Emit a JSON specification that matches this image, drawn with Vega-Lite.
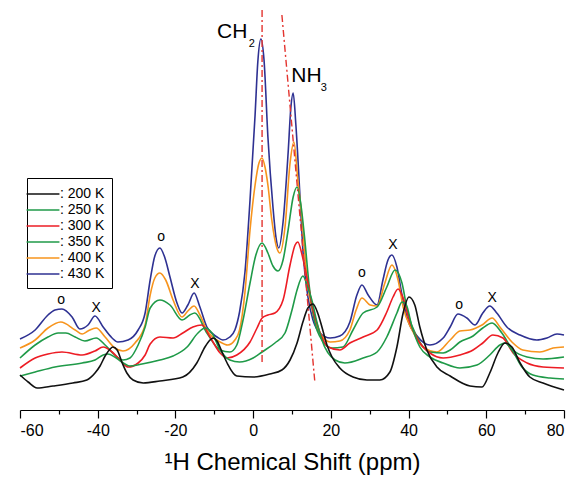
{
  "$schema": "https://vega.github.io/schema/vega-lite/v6.json",
  "width": 544,
  "height": 410,
  "autosize": {"type": "none"},
  "padding": {"left": 20, "top": 0, "right": 12, "bottom": 71},
  "config": {"font": "Liberation Sans", "view": {"stroke": null}},
  "datasets": {
    "spectra": [
      {"T":"430 K","x":-60,"y":71},{"T":"430 K","x":-56.1,"y":80},{"T":"430 K","x":-52.8,"y":95},{"T":"430 K","x":-51,"y":100},{"T":"430 K","x":-49.2,"y":101},{"T":"430 K","x":-46.6,"y":93},{"T":"430 K","x":-44.6,"y":81},{"T":"430 K","x":-42.5,"y":85},{"T":"430 K","x":-40.7,"y":94},{"T":"430 K","x":-38.6,"y":83},{"T":"430 K","x":-36.3,"y":72},{"T":"430 K","x":-34.8,"y":68},{"T":"430 K","x":-32.2,"y":70},{"T":"430 K","x":-29.6,"y":80},{"T":"430 K","x":-27.8,"y":97},{"T":"430 K","x":-26.5,"y":130},{"T":"430 K","x":-25.3,"y":154},{"T":"430 K","x":-24,"y":162},{"T":"430 K","x":-22.7,"y":152},{"T":"430 K","x":-21.4,"y":133},{"T":"430 K","x":-19.6,"y":107},{"T":"430 K","x":-18.3,"y":97},{"T":"430 K","x":-16.8,"y":105},{"T":"430 K","x":-15.2,"y":117},{"T":"430 K","x":-13.7,"y":103},{"T":"430 K","x":-11.9,"y":83},{"T":"430 K","x":-9.3,"y":73},{"T":"430 K","x":-7.8,"y":70},{"T":"430 K","x":-6,"y":73},{"T":"430 K","x":-4.7,"y":80},{"T":"430 K","x":-3.5,"y":98},{"T":"430 K","x":-2.1,"y":138},{"T":"430 K","x":-0.8,"y":210},{"T":"430 K","x":0.5,"y":295},{"T":"430 K","x":1.2,"y":348},{"T":"430 K","x":2,"y":371},{"T":"430 K","x":2.8,"y":350},{"T":"430 K","x":3.8,"y":273},{"T":"430 K","x":5.1,"y":203},{"T":"430 K","x":5.9,"y":172},{"T":"430 K","x":6.6,"y":162},{"T":"430 K","x":7.7,"y":188},{"T":"430 K","x":9,"y":257},{"T":"430 K","x":9.7,"y":302},{"T":"430 K","x":10.3,"y":317},{"T":"430 K","x":11,"y":285},{"T":"430 K","x":12.1,"y":210},{"T":"430 K","x":12.8,"y":160},{"T":"430 K","x":14.1,"y":113},{"T":"430 K","x":15.4,"y":90},{"T":"430 K","x":17.2,"y":77},{"T":"430 K","x":19.8,"y":72},{"T":"430 K","x":22.3,"y":74},{"T":"430 K","x":24.9,"y":88},{"T":"430 K","x":26.7,"y":115},{"T":"430 K","x":28,"y":125},{"T":"430 K","x":29.6,"y":115},{"T":"430 K","x":31.9,"y":105},{"T":"430 K","x":33.4,"y":130},{"T":"430 K","x":34.7,"y":150},{"T":"430 K","x":35.7,"y":155},{"T":"430 K","x":37,"y":143},{"T":"430 K","x":38.3,"y":115},{"T":"430 K","x":39.8,"y":90},{"T":"430 K","x":42.2,"y":74},{"T":"430 K","x":45.5,"y":65},{"T":"430 K","x":48.9,"y":72},{"T":"430 K","x":50.7,"y":83},{"T":"430 K","x":52.7,"y":96},{"T":"430 K","x":55,"y":92},{"T":"430 K","x":57.1,"y":85},{"T":"430 K","x":59.1,"y":97},{"T":"430 K","x":60.9,"y":104},{"T":"430 K","x":62.7,"y":97},{"T":"430 K","x":65.3,"y":83},{"T":"430 K","x":68.7,"y":75},{"T":"430 K","x":73,"y":70},{"T":"430 K","x":75.6,"y":72},{"T":"430 K","x":78.2,"y":76},{"T":"430 K","x":80,"y":75},

      {"T":"400 K","x":-60,"y":62},{"T":"400 K","x":-56.1,"y":70},{"T":"400 K","x":-52.8,"y":82},{"T":"400 K","x":-49.5,"y":88},{"T":"400 K","x":-45.8,"y":80},{"T":"400 K","x":-44,"y":76},{"T":"400 K","x":-42.5,"y":79},{"T":"400 K","x":-40.4,"y":82},{"T":"400 K","x":-38.1,"y":73},{"T":"400 K","x":-35.6,"y":62},{"T":"400 K","x":-33.5,"y":59},{"T":"400 K","x":-30.4,"y":67},{"T":"400 K","x":-27.8,"y":85},{"T":"400 K","x":-26.5,"y":115},{"T":"400 K","x":-25.3,"y":132},{"T":"400 K","x":-24,"y":137},{"T":"400 K","x":-22.5,"y":130},{"T":"400 K","x":-20.6,"y":110},{"T":"400 K","x":-18.3,"y":93},{"T":"400 K","x":-16.8,"y":99},{"T":"400 K","x":-15.2,"y":104},{"T":"400 K","x":-13.7,"y":95},{"T":"400 K","x":-11.9,"y":80},{"T":"400 K","x":-8.5,"y":68},{"T":"400 K","x":-6.5,"y":65},{"T":"400 K","x":-4.7,"y":70},{"T":"400 K","x":-3.5,"y":80},{"T":"400 K","x":-2.1,"y":118},{"T":"400 K","x":-0.8,"y":180},{"T":"400 K","x":0.5,"y":225},{"T":"400 K","x":1.5,"y":247},{"T":"400 K","x":2.3,"y":252},{"T":"400 K","x":3.1,"y":242},{"T":"400 K","x":3.8,"y":225},{"T":"400 K","x":4.8,"y":190},{"T":"400 K","x":6.1,"y":162},{"T":"400 K","x":6.9,"y":157},{"T":"400 K","x":8.2,"y":183},{"T":"400 K","x":9.5,"y":247},{"T":"400 K","x":10.5,"y":268},{"T":"400 K","x":11.5,"y":230},{"T":"400 K","x":12.6,"y":190},{"T":"400 K","x":13.9,"y":130},{"T":"400 K","x":15.4,"y":97},{"T":"400 K","x":17.2,"y":77},{"T":"400 K","x":19.8,"y":68},{"T":"400 K","x":22.3,"y":69},{"T":"400 K","x":24.9,"y":80},{"T":"400 K","x":26.5,"y":100},{"T":"400 K","x":28,"y":112},{"T":"400 K","x":30.1,"y":105},{"T":"400 K","x":31.9,"y":104},{"T":"400 K","x":33.9,"y":127},{"T":"400 K","x":35.7,"y":145},{"T":"400 K","x":37.3,"y":130},{"T":"400 K","x":38.6,"y":103},{"T":"400 K","x":40.9,"y":80},{"T":"400 K","x":43.7,"y":63},{"T":"400 K","x":47.3,"y":58},{"T":"400 K","x":50.7,"y":70},{"T":"400 K","x":53.2,"y":79},{"T":"400 K","x":55.8,"y":80},{"T":"400 K","x":58.9,"y":85},{"T":"400 K","x":61.5,"y":92},{"T":"400 K","x":63.5,"y":83},{"T":"400 K","x":66.6,"y":68},{"T":"400 K","x":69.4,"y":60},{"T":"400 K","x":73.8,"y":58},{"T":"400 K","x":77.2,"y":62},{"T":"400 K","x":80,"y":63},

      {"T":"350 K","x":-60,"y":52},{"T":"350 K","x":-56.1,"y":65},{"T":"350 K","x":-52.8,"y":73},{"T":"350 K","x":-50.2,"y":77},{"T":"350 K","x":-48.2,"y":77},{"T":"350 K","x":-45.8,"y":73},{"T":"350 K","x":-43.3,"y":69},{"T":"350 K","x":-40.4,"y":72},{"T":"350 K","x":-38.1,"y":65},{"T":"350 K","x":-35.6,"y":55},{"T":"350 K","x":-33.5,"y":50},{"T":"350 K","x":-31.7,"y":52},{"T":"350 K","x":-29.6,"y":65},{"T":"350 K","x":-27.8,"y":83},{"T":"350 K","x":-26.5,"y":102},{"T":"350 K","x":-24,"y":110},{"T":"350 K","x":-21.4,"y":105},{"T":"350 K","x":-18.3,"y":90},{"T":"350 K","x":-16.3,"y":95},{"T":"350 K","x":-15,"y":97},{"T":"350 K","x":-11.9,"y":77},{"T":"350 K","x":-8.5,"y":60},{"T":"350 K","x":-6,"y":58},{"T":"350 K","x":-4.2,"y":65},{"T":"350 K","x":-2.6,"y":90},{"T":"350 K","x":-0.8,"y":127},{"T":"350 K","x":0.7,"y":155},{"T":"350 K","x":2.3,"y":167},{"T":"350 K","x":3.8,"y":157},{"T":"350 K","x":5.1,"y":144},{"T":"350 K","x":6.4,"y":139},{"T":"350 K","x":7.7,"y":150},{"T":"350 K","x":9,"y":180},{"T":"350 K","x":10.3,"y":213},{"T":"350 K","x":11.3,"y":223},{"T":"350 K","x":12.3,"y":205},{"T":"350 K","x":13.3,"y":170},{"T":"350 K","x":14.4,"y":125},{"T":"350 K","x":15.4,"y":97},{"T":"350 K","x":17.7,"y":70},{"T":"350 K","x":20.3,"y":62},{"T":"350 K","x":23.1,"y":63},{"T":"350 K","x":25.7,"y":80},{"T":"350 K","x":28.3,"y":97},{"T":"350 K","x":31.9,"y":103},{"T":"350 K","x":34.4,"y":123},{"T":"350 K","x":36.5,"y":140},{"T":"350 K","x":38.3,"y":127},{"T":"350 K","x":39.8,"y":97},{"T":"350 K","x":42.2,"y":73},{"T":"350 K","x":45.5,"y":58},{"T":"350 K","x":48.9,"y":57},{"T":"350 K","x":50.7,"y":60},{"T":"350 K","x":53.2,"y":68},{"T":"350 K","x":56.6,"y":74},{"T":"350 K","x":59.1,"y":82},{"T":"350 K","x":61.5,"y":87},{"T":"350 K","x":64,"y":77},{"T":"350 K","x":66.9,"y":60},{"T":"350 K","x":70.5,"y":53},{"T":"350 K","x":74.6,"y":51},{"T":"350 K","x":80,"y":53},

      {"T":"300 K","x":-60,"y":42},{"T":"300 K","x":-56.1,"y":52},{"T":"300 K","x":-52.8,"y":56},{"T":"300 K","x":-49.2,"y":58},{"T":"300 K","x":-44,"y":55},{"T":"300 K","x":-40.7,"y":59},{"T":"300 K","x":-38.6,"y":63},{"T":"300 K","x":-36.3,"y":58},{"T":"300 K","x":-33.8,"y":48},{"T":"300 K","x":-32.2,"y":43},{"T":"300 K","x":-29.6,"y":47},{"T":"300 K","x":-27.8,"y":55},{"T":"300 K","x":-26.5,"y":66},{"T":"300 K","x":-24,"y":73},{"T":"300 K","x":-20.6,"y":72},{"T":"300 K","x":-18.1,"y":77},{"T":"300 K","x":-15.5,"y":83},{"T":"300 K","x":-13.2,"y":85},{"T":"300 K","x":-11.1,"y":73},{"T":"300 K","x":-8.5,"y":57},{"T":"300 K","x":-6.7,"y":52},{"T":"300 K","x":-4.2,"y":55},{"T":"300 K","x":-0.8,"y":68},{"T":"300 K","x":1,"y":82},{"T":"300 K","x":2.3,"y":92},{"T":"300 K","x":3.8,"y":95},{"T":"300 K","x":5.6,"y":97},{"T":"300 K","x":7.7,"y":110},{"T":"300 K","x":9.5,"y":145},{"T":"300 K","x":10.8,"y":165},{"T":"300 K","x":11.5,"y":168},{"T":"300 K","x":12.6,"y":155},{"T":"300 K","x":14.1,"y":127},{"T":"300 K","x":15.4,"y":100},{"T":"300 K","x":16.7,"y":83},{"T":"300 K","x":19.3,"y":63},{"T":"300 K","x":22.3,"y":60},{"T":"300 K","x":24.9,"y":67},{"T":"300 K","x":28.3,"y":73},{"T":"300 K","x":31.9,"y":80},{"T":"300 K","x":34.4,"y":98},{"T":"300 K","x":36,"y":113},{"T":"300 K","x":37.3,"y":121},{"T":"300 K","x":38.6,"y":112},{"T":"300 K","x":40.4,"y":87},{"T":"300 K","x":42.4,"y":70},{"T":"300 K","x":45.5,"y":57},{"T":"300 K","x":48.9,"y":52},{"T":"300 K","x":53.2,"y":55},{"T":"300 K","x":56.6,"y":60},{"T":"300 K","x":59.1,"y":67},{"T":"300 K","x":61.7,"y":75},{"T":"300 K","x":64.3,"y":72},{"T":"300 K","x":66.9,"y":57},{"T":"300 K","x":70.5,"y":47},{"T":"300 K","x":74.6,"y":43},{"T":"300 K","x":80,"y":42},

      {"T":"250 K","x":-60,"y":34},{"T":"250 K","x":-56.1,"y":38},{"T":"250 K","x":-51,"y":43},{"T":"250 K","x":-44,"y":47},{"T":"250 K","x":-40.7,"y":50},{"T":"250 K","x":-38.6,"y":55},{"T":"250 K","x":-37.4,"y":56},{"T":"250 K","x":-35.6,"y":53},{"T":"250 K","x":-33.8,"y":48},{"T":"250 K","x":-31.7,"y":44},{"T":"250 K","x":-28.6,"y":46},{"T":"250 K","x":-24,"y":50},{"T":"250 K","x":-20.6,"y":54},{"T":"250 K","x":-17,"y":63},{"T":"250 K","x":-14.2,"y":77},{"T":"250 K","x":-12.4,"y":82},{"T":"250 K","x":-10.6,"y":77},{"T":"250 K","x":-8.5,"y":60},{"T":"250 K","x":-6,"y":50},{"T":"250 K","x":-3.5,"y":48},{"T":"250 K","x":0,"y":52},{"T":"250 K","x":2.3,"y":58},{"T":"250 K","x":5.6,"y":67},{"T":"250 K","x":8.2,"y":77},{"T":"250 K","x":10,"y":100},{"T":"250 K","x":11.3,"y":120},{"T":"250 K","x":12.8,"y":134},{"T":"250 K","x":14.1,"y":122},{"T":"250 K","x":15.1,"y":110},{"T":"250 K","x":16.4,"y":88},{"T":"250 K","x":17.7,"y":70},{"T":"250 K","x":21.1,"y":50},{"T":"250 K","x":23.6,"y":47},{"T":"250 K","x":28.3,"y":52},{"T":"250 K","x":31.9,"y":58},{"T":"250 K","x":34.4,"y":73},{"T":"250 K","x":37,"y":97},{"T":"250 K","x":38.3,"y":108},{"T":"250 K","x":39.3,"y":106},{"T":"250 K","x":40.9,"y":83},{"T":"250 K","x":42.9,"y":63},{"T":"250 K","x":45.5,"y":53},{"T":"250 K","x":48.9,"y":47},{"T":"250 K","x":53.2,"y":42},{"T":"250 K","x":57.6,"y":45},{"T":"250 K","x":60.9,"y":55},{"T":"250 K","x":63.5,"y":65},{"T":"250 K","x":64.8,"y":67},{"T":"250 K","x":66.6,"y":60},{"T":"250 K","x":69.2,"y":43},{"T":"250 K","x":72,"y":35},{"T":"250 K","x":76.4,"y":32},{"T":"250 K","x":80,"y":31},

      {"T":"200 K","x":-60,"y":35},{"T":"200 K","x":-57.9,"y":28},{"T":"200 K","x":-55.6,"y":22},{"T":"200 K","x":-51.5,"y":24},{"T":"200 K","x":-46.4,"y":27},{"T":"200 K","x":-42.8,"y":30},{"T":"200 K","x":-40.7,"y":37},{"T":"200 K","x":-39.4,"y":44},{"T":"200 K","x":-38.1,"y":54},{"T":"200 K","x":-36.8,"y":61},{"T":"200 K","x":-36.1,"y":63},{"T":"200 K","x":-35,"y":60},{"T":"200 K","x":-33.8,"y":48},{"T":"200 K","x":-32.5,"y":37},{"T":"200 K","x":-30.9,"y":30},{"T":"200 K","x":-28.3,"y":27},{"T":"200 K","x":-24,"y":29},{"T":"200 K","x":-18.1,"y":33},{"T":"200 K","x":-14.5,"y":47},{"T":"200 K","x":-12.4,"y":63},{"T":"200 K","x":-11.1,"y":70},{"T":"200 K","x":-10.3,"y":72},{"T":"200 K","x":-9.3,"y":69},{"T":"200 K","x":-8,"y":58},{"T":"200 K","x":-6.7,"y":47},{"T":"200 K","x":-4.2,"y":34},{"T":"200 K","x":0,"y":33},{"T":"200 K","x":4.3,"y":36},{"T":"200 K","x":7.4,"y":40},{"T":"200 K","x":9.5,"y":50},{"T":"200 K","x":11.3,"y":67},{"T":"200 K","x":12.8,"y":88},{"T":"200 K","x":14.1,"y":102},{"T":"200 K","x":15.4,"y":106},{"T":"200 K","x":16.7,"y":96},{"T":"200 K","x":17.7,"y":83},{"T":"200 K","x":19,"y":65},{"T":"200 K","x":20.3,"y":53},{"T":"200 K","x":22.3,"y":42},{"T":"200 K","x":25.7,"y":33},{"T":"200 K","x":29.3,"y":30},{"T":"200 K","x":32.6,"y":30},{"T":"200 K","x":35.2,"y":38},{"T":"200 K","x":37,"y":63},{"T":"200 K","x":38.6,"y":97},{"T":"200 K","x":40.1,"y":113},{"T":"200 K","x":41.6,"y":105},{"T":"200 K","x":42.9,"y":83},{"T":"200 K","x":44.7,"y":60},{"T":"200 K","x":47.3,"y":43},{"T":"200 K","x":50.7,"y":34},{"T":"200 K","x":55.8,"y":24},{"T":"200 K","x":58.9,"y":23},{"T":"200 K","x":60.9,"y":37},{"T":"200 K","x":63,"y":57},{"T":"200 K","x":64.8,"y":67},{"T":"200 K","x":66.6,"y":63},{"T":"200 K","x":68.7,"y":47},{"T":"200 K","x":71.2,"y":33},{"T":"200 K","x":74.6,"y":27},{"T":"200 K","x":80,"y":20}
    ],
    "guides": [
      {"g":"CH2","x":2.3,"y":400},{"g":"CH2","x":2.3,"y":47},
      {"g":"NH3","x":7.4,"y":395},{"g":"NH3","x":15.9,"y":27}
    ],
    "marks": [
      {"s":"o","x":-49.4,"y":106.5},{"s":"X","x":-40.4,"y":98},
      {"s":"o","x":-23.7,"y":169.5},{"s":"X","x":-15,"y":122},
      {"s":"o","x":28,"y":133.5},{"s":"X","x":36,"y":161},
      {"s":"o","x":53,"y":101.5},{"s":"X","x":61.5,"y":108}
    ],
    "names": [
      {"s":"CH","x":-9.3,"y":372},{"s":"NH","x":9.8,"y":328}
    ],
    "subs": [
      {"s":"2","x":-1.1,"y":363},{"s":"3","x":17.4,"y":319}
    ]
  },
  "encoding": {
    "x": {
      "field": "x", "type": "quantitative",
      "scale": {"domain": [-60, 80], "nice": false, "zero": false},
      "axis": {
        "values": [-60,-50,-40,-30,-20,-10,0,10,20,30,40,50,60,70,80],
        "labelExpr": "datum.value % 20 === 0 ? '' + datum.value : ''",
        "tickSize": {"condition": {"test": "datum.value % 20 === 0", "value": 8}, "value": 4},
        "grid": false,
        "domainColor": "#000000", "tickColor": "#000000", "domainWidth": 1.2, "tickWidth": 1.2,
        "labelColor": "#000000", "labelFontSize": 16, "labelPadding": 4,
        "title": "¹H Chemical Shift (ppm)", "titleFontSize": 24, "titleFontWeight": "normal",
        "titleColor": "#000000", "titlePadding": 12
      }
    },
    "y": {
      "field": "y", "type": "quantitative",
      "scale": {"domain": [0, 410], "nice": false, "zero": false},
      "axis": null
    }
  },
  "layer": [
    {
      "data": {"name": "spectra"},
      "mark": {"type": "line", "interpolate": "monotone", "strokeWidth": 1.6},
      "encoding": {
        "color": {
          "field": "T", "type": "nominal",
          "scale": {
            "domain": ["200 K","250 K","300 K","350 K","400 K","430 K"],
            "range": ["#111111","#1f9a48","#ed1c24","#1f9a48","#f7941d","#2e3192"]
          },
          "legend": {
            "title": null, "orient": "none", "legendX": 7, "legendY": 178,
            "labelExpr": "': ' + datum.label",
            "symbolType": "M-2,0H2", "symbolSize": 270, "symbolStrokeWidth": 1.5,
            "labelOffset": 8, "labelFontSize": 14, "labelColor": "#000000",
            "rowPadding": 0, "padding": 7,
            "strokeColor": "#000000"
          }
        }
      }
    },
    {
      "data": {"name": "guides"},
      "mark": {"type": "line", "color": "#e3342f", "strokeWidth": 1.4, "strokeDash": [7, 3, 2, 3]},
      "encoding": {"detail": {"field": "g"}}
    },
    {
      "data": {"name": "marks"},
      "mark": {"type": "text", "fontSize": 14, "align": "center", "baseline": "alphabetic", "color": "#000000"},
      "encoding": {"text": {"field": "s"}}
    },
    {
      "data": {"name": "names"},
      "mark": {"type": "text", "fontSize": 21, "align": "left", "baseline": "alphabetic", "color": "#000000"},
      "encoding": {"text": {"field": "s"}}
    },
    {
      "data": {"name": "subs"},
      "mark": {"type": "text", "fontSize": 11, "align": "left", "baseline": "alphabetic", "color": "#000000"},
      "encoding": {"text": {"field": "s"}}
    }
  ]
}
